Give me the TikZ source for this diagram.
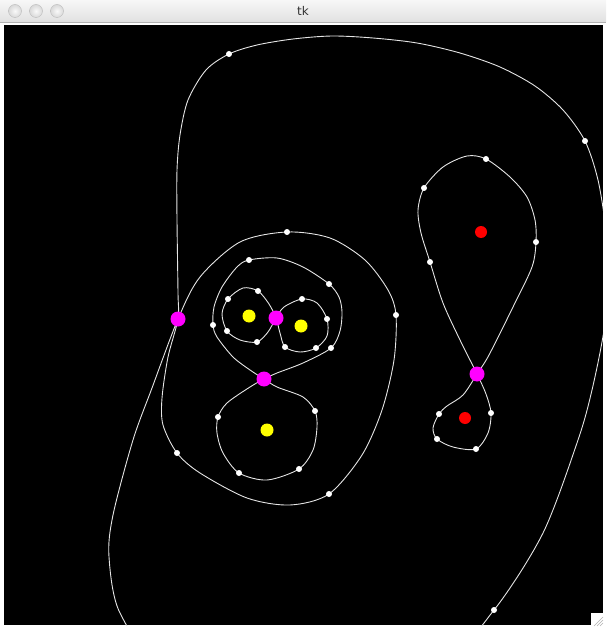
\documentclass[tikz,border=0pt]{standalone}
\usepackage{fontspec}
\setmainfont{DejaVu Sans}
\definecolor{crossmag}{RGB}{255,0,255}
\definecolor{punctyel}{RGB}{255,255,0}
\definecolor{punctred}{RGB}{255,0,0}
\begin{document}
\begin{tikzpicture}[x=1pt,y=-1pt,
    curve/.style={draw=white!90!black,line width=0.9pt},
    wdot/.style={circle,fill=white,inner sep=0pt,minimum size=6pt},
    xpt/.style={circle,fill=crossmag,inner sep=0pt,minimum size=15pt},
    ypt/.style={circle,fill=punctyel,inner sep=0pt,minimum size=13pt},
    rpt/.style={circle,fill=punctred,inner sep=0pt,minimum size=12pt},
    btn/.style={circle,draw=gray!55,inner color=gray!5,outer color=gray!30,inner sep=0pt,minimum size=13pt}]
    \useasboundingbox (0,0) rectangle (606,628);
    \fill[white] (0,0) rectangle (606,628);
    % title bar
    \shade[top color=gray!6,bottom color=gray!24] (0,0) rectangle (606,22);
    \draw[gray!60] (0,22.5) -- (606,22.5);
    \node[btn] (close) at (15,11) {};
    \node[btn] (mini) at (36,11) {};
    \node[btn] (zoom) at (57,11) {};
    \node[text=black!80,font=\fontsize{12}{12}\selectfont] (title) at (303,11) {tk};
    % canvas
    \fill[black] (4,25) rectangle (603,625);
    \begin{scope}
      \clip (4,25) rectangle (603,625);
      % outer curve, crossing itself at the left
      \draw[curve] plot[smooth cycle] coordinates {
        (178,319) (178,293) (177,220) (177,170) (180,135) (188,100)
        (206,70) (229,54) (257,45) (293,39) (332,36) (373,38) (417,43)
        (460,53) (500,67) (535,86) (563,110) (585,141) (598,180)
        (606,230) (609,275) (604,330) (592,390) (578,440) (543,533)
        (494,610) (445,655) (300,695) (165,665) (120,613) (109,557)
        (113,515) (133,440) (152,388)
        (178,319) (200,277) (240,242) (287,232) (330,238) (365,260)
        (388,290) (396,315) (394,360) (382,410) (362,455) (329,494)
        (290,505) (247,498) (200,473) (177,453) (163,425) (162,398)
        (168,357)};
      % middle figure eight
      \draw[curve] plot[smooth cycle] coordinates {
        (264,379) (250,370) (233,357) (217,337) (213,325) (214,307)
        (222,287) (237,267) (249,260) (277,258) (303,267) (329,284)
        (339,297) (342,312) (340,331) (331,348) (303,363) (277,373)
        (264,379) (250,387) (227,403) (218,417) (217,433) (223,453)
        (239,473) (267,480) (299,469) (313,450) (317,427) (315,411)
        (303,397) (277,387)};
      % small figure eight
      \draw[curve] plot[smooth cycle] coordinates {
        (276,318) (269,304) (258,291) (243,288) (228,299) (222,314)
        (227,331) (240,340) (257,342) (268,332)
        (276,318) (284,307) (302,299) (317,303) (327,319) (327,336)
        (316,348) (300,352) (285,347) (280,333)};
      % right figure eight
      \draw[curve] plot[smooth cycle] coordinates {
        (477,374) (460,340) (443,303) (430,262) (421,233) (418,210)
        (424,188) (443,167) (467,156) (486,159) (510,177) (527,197)
        (535,220) (536,242) (532,267) (513,307) (489,355)
        (477,374) (463,395) (447,406) (439,414) (433,428) (437,439)
        (453,447) (476,449) (488,433) (491,413) (486,394)};
    \end{scope}
    % points on the curves
    \foreach \p [count=\i] in {(229,54),(585,141),(494,610),(287,232),
        (396,315),(329,494),(177,453),(213,325),(249,260),(329,284),
        (331,348),(218,417),(239,473),(299,469),(315,411),(258,291),
        (228,299),(227,331),(257,342),(302,299),(327,319),(316,348),
        (285,347),(430,262),(424,188),(486,159),(536,242),(439,414),
        (437,439),(476,449),(491,413)}
      \node[wdot] (w\i) at \p {};
    % crossings
    \node[xpt] (x1) at (178,319) {};
    \node[xpt] (x2) at (276,318) {};
    \node[xpt] (x3) at (264,379) {};
    \node[xpt] (x4) at (477,374) {};
    % punctures
    \node[ypt] (y1) at (249,316) {};
    \node[ypt] (y2) at (301,326) {};
    \node[ypt] (y3) at (267,430) {};
    \node[rpt] (r1) at (481,232) {};
    \node[rpt] (r2) at (465,418) {};
    % resize grip
    \fill[white] (591,613) rectangle (603,625);
    \draw[gray!60] (594,626) -- (603,617);
    \draw[gray!60] (597,626) -- (603,620);
    \draw[gray!60] (600,626) -- (603,623);
\end{tikzpicture}
\end{document}
